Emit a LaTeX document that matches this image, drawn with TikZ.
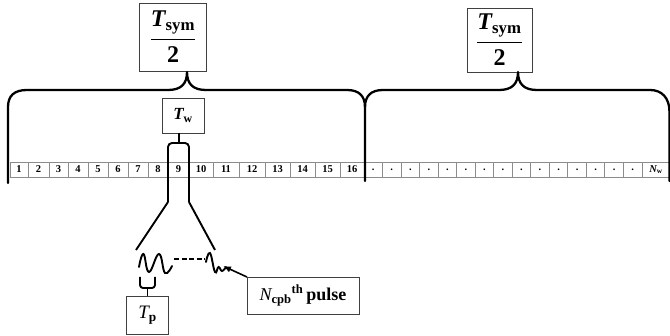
\documentclass[tikz,border=0pt]{standalone}
\usepackage{amsmath}
\usepackage{fontspec}
\setmainfont{Liberation Serif}
\usetikzlibrary{arrows.meta}

\tikzset{
  box/.style={draw=black!75, line width=0.9pt, inner sep=0pt, outer sep=0pt, fill=white},
  cell/.style={draw=black!45, line width=0.8pt, inner sep=0pt, outer sep=0pt,
               minimum height=15pt, font=\fontsize{10.5}{12}\selectfont\bfseries},
  brace/.style={line width=2.3pt, line cap=round, line join=round},
  wire/.style={line width=1.9pt, line join=round},
  wave/.style={line width=1.9pt, line cap=round, smooth, tension=0.75},
}

% half-symbol label: T_sym over 2 with a heavy fraction bar
\newcommand{\halfsymlabel}{$\displaystyle{\text{\bfseries\itshape T}_{\text{\bfseries sym}}\above 1.6pt\text{\bfseries 2}}$}

\begin{document}
\begin{tikzpicture}[x=1pt, y=-1pt]
\useasboundingbox (0,0) rectangle (670,336);

% ---- slot row: 16 numbered slots, then the remaining slots up to N_w
\foreach \a/\b [count=\i] in {10/28,28/49,49/68,68/88,88/108,108/128,128/148,148/168,
                              168/189,189/213,213/239,239/265,265/290,290/315,315/340,340/364}
  \node[cell, minimum width={(\b-\a)*1pt}] (c\i) at ({(\a+\b)/2},169.5) {\i};
\foreach \i in {1,...,15}
  \node[cell, minimum width=18.53pt] (d\i) at ({364+18.53*(\i-0.5)},169.5) {.};
\node[cell, minimum width=28pt] (dN) at (656,169.5)
  {$\text{\bfseries\itshape N}_{\text{\bfseries w}}$};

% ---- half-symbol boxes
\node[box, minimum width=67pt, minimum height=68pt, font=\fontsize{24}{28}\selectfont]
  (hs1) at (173,37) {\halfsymlabel};
\node[box, minimum width=65pt, minimum height=64pt, font=\fontsize{24}{28}\selectfont]
  (hs2) at (499.5,40) {\halfsymlabel};

% ---- braces spanning each half symbol
\coordinate (tip1) at (187,72);
\coordinate (tip2) at (518,72);
\draw[brace] (8,183) -- (8,107) .. controls (8,96) and (14,90) .. (27,90)
  -- (168,90) .. controls (181,90) and (187,84) .. (tip1)
  .. controls (187,84) and (193,90) .. (206,90)
  -- (347,90) .. controls (359,90) and (365,96) .. (365,107) -- (365,181);
\draw[brace] (365,107) .. controls (365,96) and (371,90) .. (383,90)
  -- (499,90) .. controls (512,90) and (518,84) .. (tip2)
  .. controls (518,84) and (524,90) .. (537,90)
  -- (650,90) .. controls (662,90) and (669.5,98) .. (669.5,112) -- (669.5,181);

% ---- slot width T_w and the zoom into slot 9
\node[box, minimum width=42pt, minimum height=35pt, font=\fontsize{17}{20}\selectfont]
  (tw) at (183,115.5) {$\text{\bfseries\itshape T}_{\text{\bfseries w}}$};
\coordinate (twstem) at ([xshift=-4pt]tw.south);
\coordinate (fl) at (c9.west |- 0,202);
\coordinate (fr) at (c9.east |- 0,202);
\coordinate (pl) at (136,250);
\coordinate (pr) at (215,250);
\draw[wire] (twstem) -- (twstem |- 0,143);
\draw[wire, rounded corners=4pt] (fl) |- (twstem |- 0,143) -| (fr);
\draw[wire] (fl) -- (pl);
\draw[wire] (fr) -- (pr);

% ---- pulses inside the slot
\draw[wave] plot coordinates {(139,267) (143.5,254) (149,272) (159,254) (165,273) (172,266)};
\coordinate (p1end) at (174,259);
\coordinate (p2start) at (205,259);
\draw[line width=1.9pt, dash pattern=on 5pt off 2.5pt] (p1end) -- (p2start);
\draw[wave] plot coordinates {(206,262) (210,253) (215,272) (218.5,267) (222,271) (226,267)};
\coordinate (lastpulse) at (223,266);

% ---- pulse width T_p
\node[box, minimum width=42pt, minimum height=38pt, font=\fontsize{19}{22}\selectfont]
  (tp) at (147.5,315) {$\text{\itshape T}_{\text{\bfseries p}}$};
\coordinate (tpbar) at (147.5,288);
\draw[wire] (tpbar) -- (tp.north);
\draw[wire, rounded corners=3pt] (140,277) |- (tpbar) -| (155,277);

% ---- label of the last pulse
\node[box, minimum width=112pt, minimum height=37pt, font=\fontsize{18}{21}\selectfont]
  (ncpb) at (303,295.5)
  {$\text{\itshape N}_{\text{\bfseries cpb}}{}^{\text{\bfseries th}}$\,\textbf{pulse}};
\draw[line width=1.6pt, -{Latex[length=8pt,width=6.5pt]}] (ncpb.north west) -- (lastpulse);

\end{tikzpicture}
\end{document}
